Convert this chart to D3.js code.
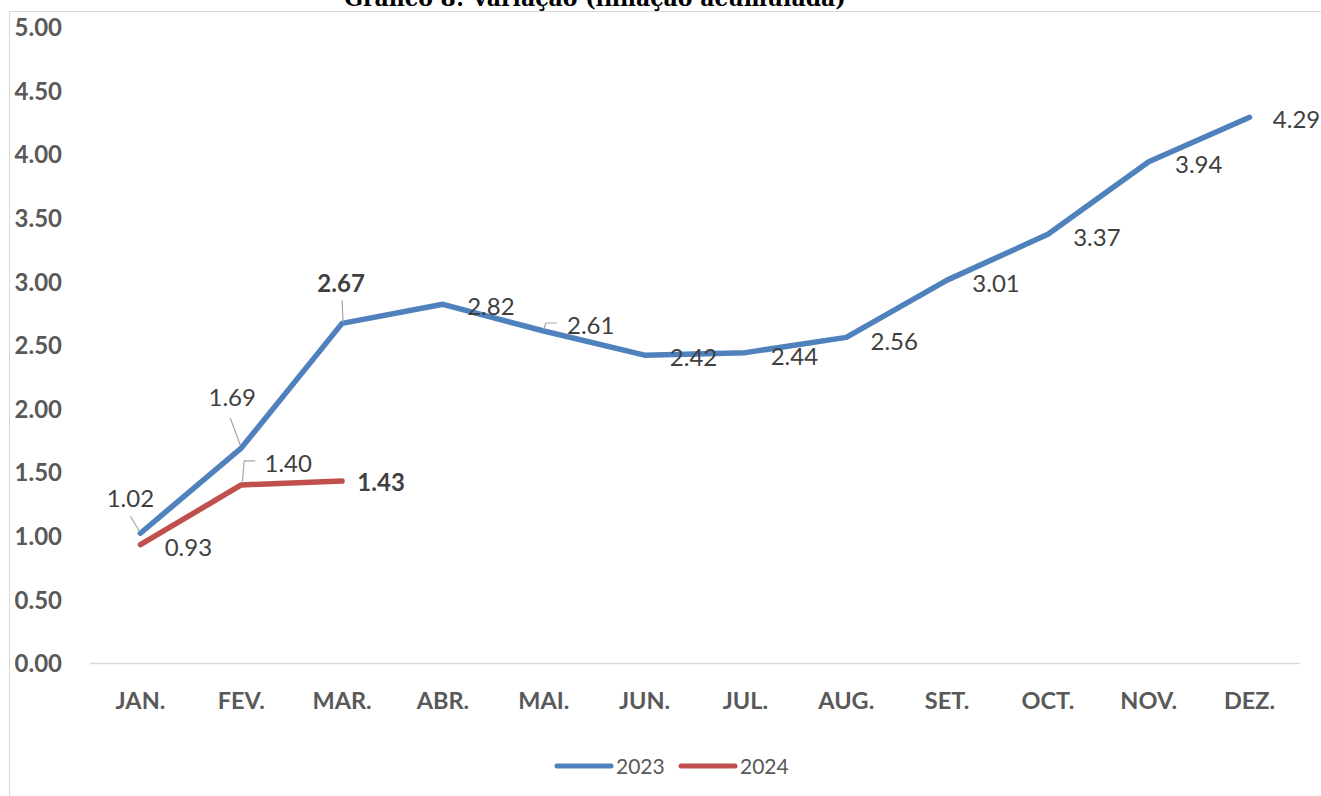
<!DOCTYPE html>
<html>
<head>
<meta charset="utf-8">
<script src="https://cdn.jsdelivr.net/npm/d3@7/dist/d3.min.js"></script>
<style>
  body { margin: 0; background: #fff; }
  svg { display: block; }
</style>
</head>
<body>
<svg width="1321" height="796"></svg>
<script>
// Data
const months = ["JAN.", "FEV.", "MAR.", "ABR.", "MAI.", "JUN.", "JUL.", "AUG.", "SET.", "OCT.", "NOV.", "DEZ."];
const values2023 = [1.02, 1.69, 2.67, 2.82, 2.61, 2.42, 2.44, 2.56, 3.01, 3.37, 3.94, 4.29];
const values2024 = [0.93, 1.40, 1.43];
const yTicks = [0, 0.5, 1, 1.5, 2, 2.5, 3, 3.5, 4, 4.5, 5];
const seriesNames = ["2023", "2024"];

// label placement relative to point: [dx, dy, bold, leader points]
const labels2023 = [
  [-10, -35, false, [[-10, -17], [-1, -2]]],
  [-9, -51, false, [[-11, -30], [-1, -3]]],
  [-1, -40, true, [[0, -23], [1, -1]]],
  [48, 2, false, null],
  [47, -6, false, [[13, -8], [2, -8], [0, -1]]],
  [49, 2, false, null],
  [49, 4, false, null],
  [48, 4, false, null],
  [49, 3, false, null],
  [49, 3, false, null],
  [50, 3, false, null],
  [47, 2, false, null]
];
const labels2024 = [
  [48, 3, false, null],
  [47, -22, false, [[14, -24], [3, -24], [1, -2]]],
  [39, 1, true, null]
];

const svg = d3.select("svg");
const plotLeft = 90, plotRight = 1300, plotTop = 27, plotBottom = 663;
const font = "Lato, 'Open Sans', sans-serif";

const x = d3.scaleBand().domain(months).range([plotLeft, plotRight]);
const y = d3.scaleLinear().domain([0, 5]).range([plotBottom, plotTop]);
const px = (i) => x(months[i]) + x.bandwidth() / 2;

// frame
svg.append("path")
  .attr("d", "M9.5,796V11.5H1321")
  .attr("fill", "none")
  .attr("stroke", "#d9d9d9")
  .attr("stroke-width", 1);

// title (cut off at the top, as in the source)
svg.append("text")
  .attr("x", 595)
  .attr("y", 6)
  .attr("text-anchor", "middle")
  .attr("font-family", "'DejaVu Serif', serif")
  .attr("font-weight", "bold")
  .attr("font-size", 22)
  .attr("fill", "#000")
  .text("Gráfico 8: Variação (inflação acumulada)");

// baseline
svg.append("line")
  .attr("x1", plotLeft).attr("x2", plotRight)
  .attr("y1", y(0) + 0.5).attr("y2", y(0) + 0.5)
  .attr("stroke", "#d9d9d9")
  .attr("stroke-width", 1.5);

// y axis
const yAxis = d3.axisLeft(y).tickValues(yTicks).tickFormat(d3.format(".2f")).tickSize(0);
const yg = svg.append("g").attr("transform", "translate(62,0)").call(yAxis);
yg.select(".domain").remove();
yg.selectAll("text")
  .attr("x", 0)
  .attr("dy", "0.36em")
  .attr("font-family", font)
  .attr("font-weight", "bold")
  .attr("font-size", 24)
  .attr("fill", "#595959");

// x axis
const xAxis = d3.axisBottom(x).tickSize(0);
const xg = svg.append("g").attr("transform", `translate(0,${plotBottom})`).call(xAxis);
xg.select(".domain").remove();
xg.selectAll("text")
  .attr("y", 38)
  .attr("dy", "0.36em")
  .attr("font-family", font)
  .attr("font-weight", "bold")
  .attr("font-size", 23.5)
  .attr("fill", "#595959");

const line = d3.line().x((d, i) => px(i)).y((d) => y(d));
const colors = ["#4f81bd", "#c0504d"];
const allSeries = [values2023, values2024];
const allLabels = [labels2023, labels2024];

allSeries.forEach((vals, s) => {
  svg.append("path")
    .datum(vals)
    .attr("d", line)
    .attr("fill", "none")
    .attr("stroke", colors[s])
    .attr("stroke-width", 5.5)
    .attr("stroke-linecap", "round")
    .attr("stroke-linejoin", "round");
});

allSeries.forEach((vals, s) => {
  const g = svg.append("g");
  vals.forEach((v, i) => {
    const [dx, dy, bold, leader] = allLabels[s][i];
    const cx = px(i), cy = y(v);
    if (leader) {
      g.append("path")
        .attr("d", d3.line()(leader.map((p) => [cx + p[0], cy + p[1]])))
        .attr("fill", "none")
        .attr("stroke", "#a6a6a6")
        .attr("stroke-width", 1.2);
    }
    g.append("text")
      .attr("x", cx + dx)
      .attr("y", cy + dy)
      .attr("dy", "0.36em")
      .attr("text-anchor", "middle")
      .attr("font-family", font)
      .attr("font-weight", bold ? "bold" : "normal")
      .attr("font-size", 24)
      .attr("fill", "#404040")
      .text(d3.format(".2f")(v));
  });
});

// legend
const legendX = [557, 681];
seriesNames.forEach((name, s) => {
  svg.append("line")
    .attr("x1", legendX[s]).attr("x2", legendX[s] + 54)
    .attr("y1", 766).attr("y2", 766)
    .attr("stroke", colors[s])
    .attr("stroke-width", 5)
    .attr("stroke-linecap", "round");
  svg.append("text")
    .attr("x", legendX[s] + 59)
    .attr("y", 766)
    .attr("dy", "0.36em")
    .attr("font-family", font)
    .attr("font-size", 21)
    .attr("fill", "#595959")
    .text(name);
});
</script>
</body>
</html>
